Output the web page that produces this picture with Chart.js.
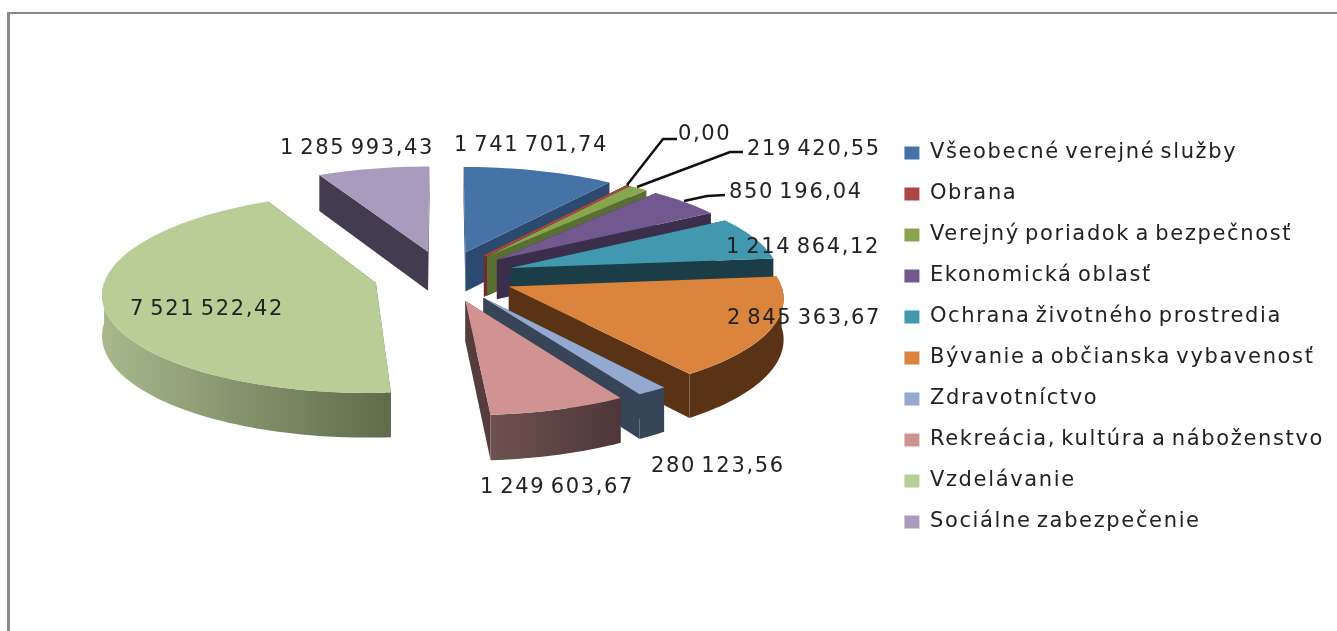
<!DOCTYPE html>
<html lang="sk">
<head>
    <meta charset="UTF-8">
    <title>Výdavky podľa oblastí</title>
    <script src="https://cdnjs.cloudflare.com/ajax/libs/Chart.js/4.4.1/chart.umd.min.js"></script>
    <style>
        html, body { margin: 0; padding: 0; background: #fff; overflow: hidden; }
        #frame {
            position: absolute; left: 7px; top: 12px; right: -5px; bottom: -5px;
            border-left: 3px solid #8a8a8a; border-top: 2px solid #868686;
        }
        #myChart { position: absolute; left: 0; top: 0; filter: blur(0.5px); }
    </style>
</head>
<body>
<div id="frame"></div>
<canvas id="myChart" width="1337" height="631"></canvas>
<script>
    var categories = ['Všeobecné verejné služby', 'Obrana', 'Verejný poriadok a bezpečnosť', 'Ekonomická oblasť',
        'Ochrana životného prostredia', 'Bývanie a občianska vybavenosť', 'Zdravotníctvo',
        'Rekreácia, kultúra a náboženstvo', 'Vzdelávanie', 'Sociálne zabezpečenie'];
    var amounts = [1741701.74, 0, 219420.55, 850196.04, 1214864.12, 2845363.67, 280123.56, 1249603.67, 7521522.42, 1285993.43];

    var topColors = ['#4572A7', '#AA4643', '#89A54E', '#71588F', '#4198AF', '#DB843D', '#93A9CF', '#D19392', '#B9CD96', '#A99BBD'];
    var cutColors = ['#2c4a70', '#6e2d2b', '#5a6d33', '#3b2e4b', '#1b3d48', '#5a3316', '#384558', '#563c3c', '#5f6b4a', '#423c4e'];
    var rimLeft = ['#2c4a70', '#6e2d2b', '#5a6d33', '#3b2e4b', '#1b3d48', '#5a3316', '#384558', '#6e5250', '#a8b88c', '#423c4e'];
    var rimRight = ['#2c4a70', '#6e2d2b', '#5a6d33', '#3b2e4b', '#1b3d48', '#5a3316', '#384558', '#4e3638', '#5f6b4a', '#423c4e'];

    // label text anchors (left x, baseline y), same order as categories
    var labelAnchors = [[454, 151], [678, 140], [747, 155], [729, 198], [726, 253], [727, 324], [651, 472], [480, 493], [130, 315], [280, 154]];
    var leaderLines = [
        [[627, 185], [663, 139], [677, 139]],
        [[637, 187], [730, 152], [743, 152]],
        [[684, 201], [707, 196], [725, 195]]
    ];

    // view of the pie plate: centre, radii, slice explosion, perspective, thickness
    var view = { x: 444, y: 276, rx: 270, ry: 98, explode: 0.26, persp: 0.097, depth: 40 };
    var textFont = '"DejaVu Sans"';
    var textSize = 21;
    var textSpacing = '1.65px';
    var textWordSpacing = '-3px';

    function formatAmount(n) {
        var parts = n.toFixed(2).split('.');
        return parts[0].replace(/\B(?=(\d{3})+(?!\d))/g, ' ') + ',' + parts[1];
    }

    // plate point (u,v in radii, v grows towards viewer) to screen
    function project(u, v, low) {
        var w = 1 / (1 - view.persp * v);
        return [view.x + view.rx * u * w, view.y + view.ry * v * w + (low ? view.depth * w : 0)];
    }

    function rimPoints(start, end, ex, ey, low) {
        var pts = [];
        var steps = Math.max(2, Math.ceil((end - start) / 0.03));
        for (var i = 0; i <= steps; i++) {
            var a = start + (end - start) * i / steps;
            pts.push(project(Math.cos(a) + ex, Math.sin(a) + ey, low));
        }
        return pts;
    }

    function fillPoly(ctx, pts, fill, edge) {
        ctx.beginPath();
        pts.forEach(function (p, i) {
            if (i == 0) ctx.moveTo(p[0], p[1]); else ctx.lineTo(p[0], p[1]);
        });
        ctx.closePath();
        ctx.fillStyle = fill;
        ctx.fill();
        if (edge) {
            ctx.strokeStyle = fill;
            ctx.lineWidth = 2;
            ctx.stroke();
        }
    }

    var plate3d = {
        id: 'plate3d',
        // has to be set again here, resizing the canvas resets the context
        beforeLayout: function (chart) {
            chart.ctx.letterSpacing = textSpacing;
            chart.ctx.wordSpacing = textWordSpacing;
        },
        beforeDatasetsDraw: function (chart) {
            var ctx = chart.ctx;
            var arcs = chart.getDatasetMeta(0).data.map(function (arc, i) {
                var p = arc.getProps(['startAngle', 'endAngle'], true);
                var mid = (p.startAngle + p.endAngle) / 2;
                return { i: i, s: p.startAngle, e: p.endAngle, ex: Math.cos(mid) * view.explode, ey: Math.sin(mid) * view.explode };
            });
            arcs.sort(function (a, b) { return a.ey - b.ey; });

            arcs.forEach(function (arc) {
                var i = arc.i, ex = arc.ex, ey = arc.ey;
                var zero = arc.e - arc.s < 0.001;
                var apexTop = project(ex, ey, false), apexLow = project(ex, ey, true);

                // the two cut faces
                [arc.s, arc.e].forEach(function (a) {
                    var top = project(Math.cos(a) + ex, Math.sin(a) + ey, false);
                    var low = project(Math.cos(a) + ex, Math.sin(a) + ey, true);
                    fillPoly(ctx, [apexTop, top, low, apexLow], cutColors[i], zero);
                });

                // outer wall, front half only
                var from = Math.max(arc.s, 0), to = Math.min(arc.e, Math.PI);
                if (to > from) {
                    var upper = rimPoints(from, to, ex, ey, false);
                    var lower = rimPoints(from, to, ex, ey, true);
                    var xs = upper.map(function (p) { return p[0]; });
                    var grad = ctx.createLinearGradient(Math.min.apply(null, xs), 0, Math.max.apply(null, xs), 0);
                    grad.addColorStop(0, rimLeft[i]);
                    grad.addColorStop(1, rimRight[i]);
                    fillPoly(ctx, upper.concat(lower.reverse()), grad, false);
                }

                // top face
                fillPoly(ctx, [apexTop].concat(rimPoints(arc.s, arc.e, ex, ey, false)), topColors[i], zero);
            });
            return false;
        },
        afterDraw: function (chart) {
            var ctx = chart.ctx;
            ctx.save();
            ctx.strokeStyle = '#111';
            ctx.lineWidth = 2.5;
            leaderLines.forEach(function (line) {
                ctx.beginPath();
                line.forEach(function (p, i) {
                    if (i == 0) ctx.moveTo(p[0], p[1]); else ctx.lineTo(p[0], p[1]);
                });
                ctx.stroke();
            });
            ctx.fillStyle = '#222';
            ctx.font = textSize + 'px ' + textFont;
            ctx.textAlign = 'left';
            ctx.textBaseline = 'alphabetic';
            amounts.forEach(function (v, i) {
                ctx.fillText(formatAmount(v), labelAnchors[i][0], labelAnchors[i][1]);
            });
            ctx.restore();
        }
    };

    var ctx = document.getElementById('myChart').getContext('2d');
    var myChart = new Chart(ctx, {
        type: 'pie',
        data: {
            labels: categories,
            datasets: [{
                data: amounts,
                backgroundColor: topColors,
                borderWidth: 0
            }]
        },
        options: {
            responsive: false,
            animation: false,
            layout: { padding: { top: 44, right: 3 } },
            plugins: {
                tooltip: { enabled: false },
                legend: {
                    position: 'right',
                    labels: {
                        boxWidth: 15,
                        boxHeight: 13,
                        padding: 20,
                        color: '#222',
                        font: { family: textFont, size: textSize }
                    }
                }
            }
        },
        plugins: [plate3d]
    });
</script>
</body>
</html>
